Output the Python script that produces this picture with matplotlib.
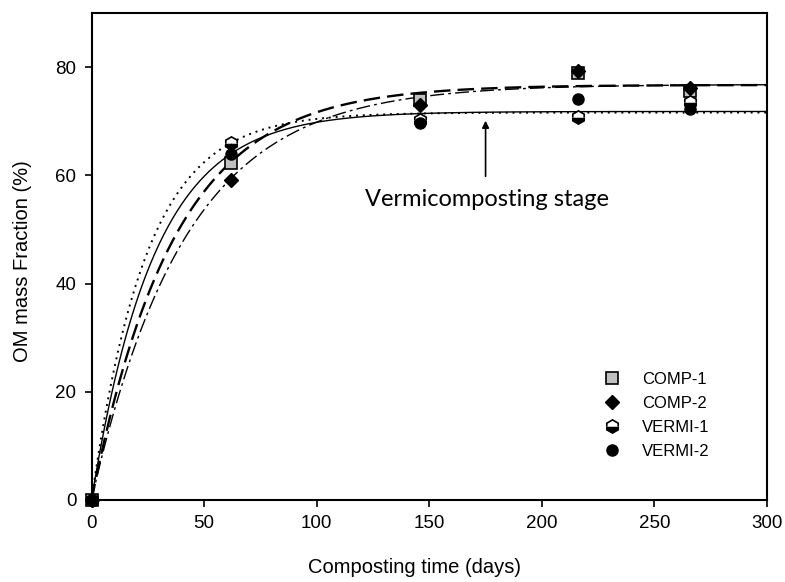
import numpy as np
import matplotlib
matplotlib.use("Agg")
import matplotlib.pyplot as plt

plt.rcParams["font.family"] = ["Liberation Sans", "DejaVu Sans"]

# Sampling days
days = [0, 62, 146, 216, 266]

# Organic-matter mass fraction (%) per treatment
comp1 = [0, 62.2, 74.0, 79.0, 75.5]
comp2 = [0, 59.2, 73.0, 79.2, 76.2]
vermi1 = [0, 65.9, 70.3, 70.8, 73.5]
vermi2 = [0, 64.0, 69.6, 74.1, 72.2]

# First-order fit parameters: OM(t) = A * (1 - exp(-k t))
fit_A = {"COMP-1": 76.7, "COMP-2": 76.8, "VERMI-1": 71.6, "VERMI-2": 71.8}
fit_k = {"COMP-1": 0.0272, "COMP-2": 0.0240, "VERMI-1": 0.0411, "VERMI-2": 0.0358}

fig = plt.figure(figsize=(7.85, 5.82), dpi=100)
ax = fig.add_axes([0.1166, 0.1409, 0.8605, 0.8368])

t = np.linspace(0, 300, 600)
line_styles = {
    "COMP-1": dict(linestyle=(0, (7, 3)), linewidth=1.7),
    "COMP-2": dict(linestyle=(0, (10, 3, 2, 3)), linewidth=1.0),
    "VERMI-1": dict(linestyle=(0, (1, 2.5)), linewidth=1.4),
    "VERMI-2": dict(linestyle="-", linewidth=1.0),
}
for name in ["VERMI-2", "VERMI-1", "COMP-1", "COMP-2"]:
    ax.plot(t, fit_A[name] * (1 - np.exp(-fit_k[name] * t)), color="black",
            **line_styles[name], zorder=2)

ax.plot(days, comp1, linestyle="none", marker="s", markersize=8.5,
        markerfacecolor="#c0c0c0", markeredgecolor="black", markeredgewidth=1.2,
        label="COMP-1", clip_on=False, zorder=3)
ax.plot(days, comp2, linestyle="none", marker="D", markersize=7.5,
        markerfacecolor="black", markeredgecolor="black",
        label="COMP-2", clip_on=False, zorder=3)
ax.plot(days, vermi1, linestyle="none", marker="h", markersize=9.5,
        fillstyle="bottom", markerfacecolor="black", markerfacecoloralt="white",
        markeredgecolor="black", markeredgewidth=1.2,
        label="VERMI-1", clip_on=False, zorder=3)
ax.plot(days, vermi2, linestyle="none", marker="o", markersize=8,
        markerfacecolor="black", markeredgecolor="black",
        label="VERMI-2", clip_on=False, zorder=3)

ax.set_xlim(0, 300)
ax.set_ylim(0, 90)
ax.set_xticks([0, 50, 100, 150, 200, 250, 300])
ax.set_yticks([0, 20, 40, 60, 80])
ax.tick_params(axis="both", which="major", direction="out", length=5, width=1.2,
               labelsize=13.5, top=False, right=False, pad=6)
for sp in ax.spines.values():
    sp.set_linewidth(1.5)

ax.set_xlabel("Composting time (days)", fontsize=14.5)
ax.xaxis.set_label_coords(0.478, -0.12)
ax.set_ylabel("OM mass Fraction (%)", fontsize=14.5)
ax.yaxis.set_label_coords(-0.088, 0.49)

ax.annotate("", xy=(175, 70.6), xytext=(175, 59.3),
            arrowprops=dict(arrowstyle="-|>", color="black", lw=1.2,
                            mutation_scale=10))
ax.text(175.5, 55.5, "Vermicomposting stage", ha="center", va="center",
        fontsize=17, family=["Lato", "DejaVu Sans"])

leg = ax.legend(loc="lower right", bbox_to_anchor=(0.925, 0.07), frameon=False,
                fontsize=12, handletextpad=1.3, labelspacing=0.55,
                borderaxespad=0.0, handlelength=1.0)

fig.savefig("out.png", dpi=100)
